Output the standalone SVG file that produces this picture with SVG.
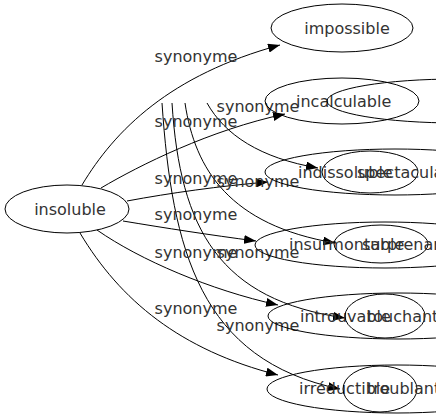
<svg xmlns="http://www.w3.org/2000/svg" width="436" height="419" viewBox="0 0 436 419">
<defs>
<marker id="arr" markerUnits="userSpaceOnUse" markerWidth="12" markerHeight="9" refX="12" refY="4.5" orient="auto">
<path d="M0,0 L12,4.5 L0,9 z" fill="#000"/>
</marker>
<style>
.n{fill:none;stroke:#000;stroke-width:1}
.e{fill:none;stroke:#000;stroke-width:1;marker-end:url(#arr)}
text{font-family:"DejaVu Sans",Verdana,sans-serif;font-size:16px;fill:#333}
.t{text-anchor:middle}
</style>
</defs>
<rect width="436" height="419" fill="#fff"/>
<g id="connectors">
<path class="e" d="M82,185 C115,130 170,75 280,45"/>
<path class="e" d="M101,188 C140,165 210,130 285,114"/>
<path class="e" d="M127,201 C170,193 220,186 268,182"/>
<path class="e" d="M123,221 C165,228 210,235 256,241"/>
<path class="e" d="M97,230 C140,260 210,290 278,305"/>
<path class="e" d="M80,233 C120,300 180,350 278,375"/>
<path class="e" d="M207,103 C225,135 260,158 318,168"/>
<path class="e" d="M185,103 C195,170 230,225 335,243"/>
<path class="e" d="M172,103 C180,230 220,300 345,318"/>
<path class="e" d="M162,103 C172,250 200,360 340,389"/>
<text class="t" x="196" y="62">synonyme</text>
<text class="t" x="196" y="127">synonyme</text>
<text class="t" x="196" y="184">synonyme</text>
<text class="t" x="196" y="220">synonyme</text>
<text class="t" x="196" y="258">synonyme</text>
<text class="t" x="196" y="314">synonyme</text>
<text class="t" x="258" y="112">synonyme</text>
<text class="t" x="258" y="187">synonyme</text>
<text class="t" x="258" y="258">synonyme</text>
<text class="t" x="258" y="331">synonyme</text>
</g>
<g id="insoluble"><ellipse class="n" cx="67" cy="209" rx="62" ry="24"/><text class="t" x="70" y="215">insoluble</text></g>
<g id="impossible"><ellipse class="n" cx="342" cy="28" rx="71" ry="24"/><text class="t" x="347" y="34">impossible</text></g>
<g id="incalculable"><ellipse class="n" cx="342" cy="101" rx="77" ry="23"/><text x="296" y="107">incalculable</text></g>
<g id="b1"><ellipse class="n" cx="457" cy="101" rx="130" ry="22"/></g>
<g id="indissoluble"><ellipse class="n" cx="395" cy="172" rx="130" ry="23"/><text x="298" y="178">indissoluble</text></g>
<g id="spectaculaire"><ellipse class="n" cx="370" cy="172" rx="48" ry="21"/><text x="357" y="178">spectaculaire</text></g>
<g id="insurmontable"><ellipse class="n" cx="385" cy="245" rx="130" ry="23"/><text x="289" y="250">insurmontable</text></g>
<g id="surprenant"><ellipse class="n" cx="381" cy="244" rx="47" ry="19"/><text x="362" y="250">surprenant</text></g>
<g id="introuvable"><ellipse class="n" cx="398" cy="316" rx="130" ry="23"/><text x="300" y="322">introuvable</text></g>
<g id="touchant"><ellipse class="n" cx="385" cy="316" rx="40" ry="22"/><text x="367" y="322">touchant</text></g>
<g id="irreductible"><ellipse class="n" cx="397" cy="389" rx="130" ry="24"/><text x="299" y="394">irréductible</text></g>
<g id="troublant"><ellipse class="n" cx="380" cy="389" rx="37" ry="23"/><text x="367" y="394">troublant</text></g>
</svg>
